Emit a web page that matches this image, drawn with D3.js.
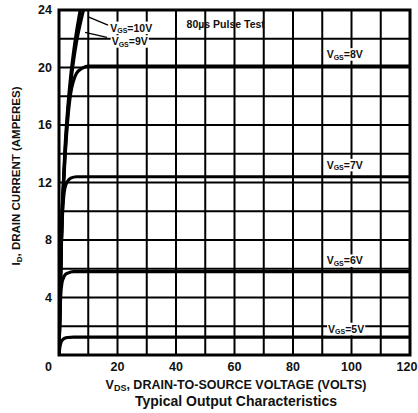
<!DOCTYPE html>
<html>
<head>
<meta charset="utf-8">
<script src="https://cdn.jsdelivr.net/npm/d3@7"></script>
<style>
  body { margin: 0; background: #fff; }
  text { font-family: "Liberation Sans", Arial, sans-serif; font-weight: bold; fill: #111; }
</style>
</head>
<body>
<script>
const W = 418, H = 413;
const margin = { left: 59, right: 8, top: 10, bottom: 58 };
const w = W - margin.left - margin.right;
const h = H - margin.top - margin.bottom;

// drain curves, one pair of arrays per gate voltage (VDS in volts, ID in amperes)
const vds10 = [0, 0.5, 1, 1.5, 2, 3, 4, 5, 6, 7, 8];
const id10 = [0, 5.2, 9.6, 12, 14.2, 17.2, 19.4, 21.1, 22.5, 23.7, 24.8];
const vds9 = [0, 0.5, 1, 1.5, 2, 3, 4, 5, 6, 7, 8, 9];
const id9 = [0, 5.1, 9.4, 11.8, 13.8, 16.8, 18.9, 20.5, 21.8, 22.8, 23.7, 24.5];
const vds8 = [0, 0.5, 1, 1.5, 2, 3, 4, 5, 6, 8, 10, 120];
const id8 = [0, 5, 9.2, 11.6, 13.5, 16.4, 18.2, 19.1, 19.6, 19.95, 20.1, 20.1];
const vds7 = [0, 0.4, 0.8, 1.2, 1.6, 2, 3, 4, 6, 120];
const id7 = [0, 4.2, 7.6, 9.8, 11, 11.6, 12.1, 12.3, 12.4, 12.4];
const vds6 = [0, 0.3, 0.6, 1, 1.5, 2, 3, 5, 120];
const id6 = [0, 2.6, 4.2, 5, 5.35, 5.55, 5.7, 5.8, 5.8];
const vds5 = [0, 0.3, 0.7, 1.2, 2, 3, 5, 120];
const id5 = [0, 0.55, 0.88, 1.05, 1.17, 1.22, 1.25, 1.25];

const curveX = [vds10, vds9, vds8, vds7, vds6, vds5];
const curveY = [id10, id9, id8, id7, id6, id5];

// labels: gate voltage text and the point (VDS, ID) where the label baseline sits
const labelNames = ["10V", "9V", "8V", "7V", "6V", "5V"];
const labelVds = [17.5, 18, 91.5, 91.5, 91.5, 92];
const labelId = [22.5, 21.55, 20.65, 12.95, 6.3, 1.55];

const xGrid = d3.range(10, 120, 10);
const yGrid = d3.range(2, 24, 2);
const xTicks = [20, 40, 60, 80, 100, 120];
const yTicks = [4, 8, 12, 16, 20, 24];

const svg = d3.select("body").append("svg").attr("width", W).attr("height", H);
const g = svg.append("g").attr("transform", `translate(${margin.left},${margin.top})`);

const x = d3.scaleLinear().domain([0, 120]).range([0, w]);
const y = d3.scaleLinear().domain([0, 24]).range([h, 0]);

// grid
g.selectAll(".vg").data(xGrid).enter().append("line")
  .attr("class", "vg")
  .attr("x1", d => x(d)).attr("x2", d => x(d))
  .attr("y1", 0).attr("y2", h)
  .attr("stroke", "#000").attr("stroke-width", 2);
g.selectAll(".hg").data(yGrid).enter().append("line")
  .attr("class", "hg")
  .attr("x1", 0).attr("x2", w)
  .attr("y1", d => y(d)).attr("y2", d => y(d))
  .attr("stroke", "#000").attr("stroke-width", 2);

// curves
svg.append("clipPath").attr("id", "clip")
  .append("rect").attr("x", 0).attr("y", 0).attr("width", w).attr("height", h);

const line = d3.line().x(d => x(d[0])).y(d => y(d[1])).curve(d3.curveMonotoneX);
const curves = g.append("g").attr("clip-path", "url(#clip)");
curveX.forEach((xs, i) => {
  curves.append("path")
    .datum(xs.map((v, j) => [v, curveY[i][j]]))
    .attr("d", line)
    .attr("fill", "none")
    .attr("stroke", "#000")
    .attr("stroke-width", 3.2);
});

// leader lines for 10V and 9V
const leaders = [[[10.2, 23.5], [16.75, 22.95]], [[8.9, 22.45], [16.4, 22.1]]];
leaders.forEach(p => {
  g.append("line")
    .attr("x1", x(p[0][0])).attr("y1", y(p[0][1]))
    .attr("x2", x(p[1][0])).attr("y2", y(p[1][1]))
    .attr("stroke", "#000").attr("stroke-width", 1.3);
});

// frame
g.append("rect").attr("width", w).attr("height", h)
  .attr("fill", "none").attr("stroke", "#000").attr("stroke-width", 3);

// VGS labels with white backing
labelNames.forEach((name, i) => {
  const lg = g.append("g").attr("transform", `translate(${x(labelVds[i])},${y(labelId[i])})`);
  const t = lg.append("text").attr("font-size", 10.5).attr("y", 0);
  t.append("tspan").text("V");
  t.append("tspan").attr("font-size", 7).attr("dy", 1.5).text("GS");
  t.append("tspan").attr("dy", -1.5).text("=" + name);
  const bb = t.node().getBBox();
  lg.insert("rect", "text")
    .attr("x", bb.x - 1).attr("y", bb.y)
    .attr("width", bb.width + 2).attr("height", bb.height)
    .attr("fill", "#fff");
});

// pulse note
g.append("text").attr("x", x(57)).attr("y", y(22.75))
  .attr("text-anchor", "middle").attr("font-size", 10.5)
  .text("80\u00b5s Pulse Test");

// tick labels
g.selectAll(".xl").data(xTicks).enter().append("text")
  .attr("class", "xl")
  .attr("x", d => d === 120 ? x(d) - 3 : x(d)).attr("y", h + 16)
  .attr("text-anchor", "middle").attr("font-size", 12.5)
  .text(d => d);
g.selectAll(".yl").data(yTicks).enter().append("text")
  .attr("class", "yl")
  .attr("x", -7).attr("y", d => y(d) + 4)
  .attr("text-anchor", "end").attr("font-size", 12.5)
  .text(d => d);
g.append("text").attr("x", -7).attr("y", h + 16)
  .attr("text-anchor", "end").attr("font-size", 12.5).text("0");

// axis titles
const xt = svg.append("text").attr("x", 236).attr("y", 389)
  .attr("text-anchor", "middle").attr("font-size", 12.5);
xt.append("tspan").text("V");
xt.append("tspan").attr("font-size", 9).attr("dy", 2).text("DS");
xt.append("tspan").attr("dy", -2).text(", DRAIN-TO-SOURCE VOLTAGE (VOLTS)");

const yt = svg.append("text")
  .attr("transform", "translate(20,176) rotate(-90)")
  .attr("text-anchor", "middle").attr("font-size", 11.5);
yt.append("tspan").text("I");
yt.append("tspan").attr("font-size", 8).attr("dy", 2).text("D");
yt.append("tspan").attr("dy", -2).text(", DRAIN CURRENT (AMPERES)");

svg.append("text").attr("x", 236).attr("y", 406)
  .attr("text-anchor", "middle").attr("font-size", 14)
  .text("Typical Output Characteristics");
</script>
</body>
</html>
